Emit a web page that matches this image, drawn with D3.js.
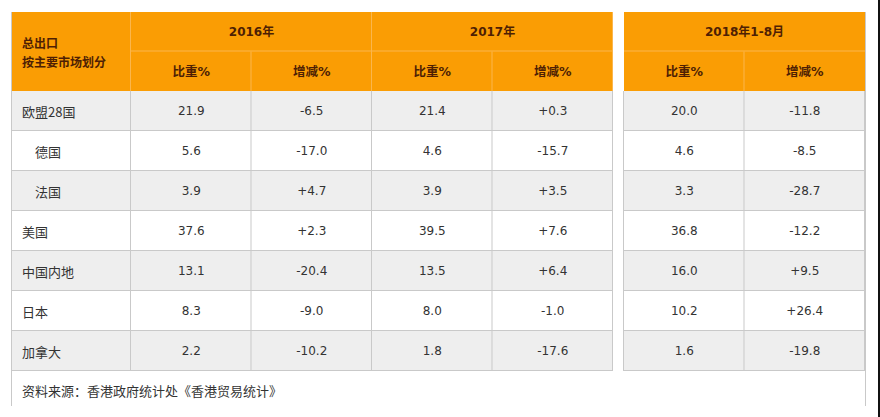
<!DOCTYPE html>
<html>
<head>
<meta charset="utf-8">
<script src="https://cdn.jsdelivr.net/npm/d3@7"></script>
<style>
  body { margin: 0; background: #fff; }
  svg { display: block; }
  .cell-text { font-family: "DejaVu Sans", "Noto Sans CJK SC", sans-serif; font-size: 12px; fill: #333; }
  .label-text { font-family: "Noto Sans CJK SC", sans-serif; font-size: 13px; fill: #333; }
  .head-text { font-family: "DejaVu Sans", "Noto Sans CJK SC", sans-serif; font-size: 12.5px; font-weight: bold; fill: #4e1f04; }
  .period { font-size: 12px; }
  .corner { font-family: "Noto Sans CJK SC", sans-serif; font-size: 12px; }
</style>
</head>
<body>
<svg width="880" height="417"></svg>
<script>
const markets = ['欧盟28国', '德国', '法国', '美国', '中国内地', '日本', '加拿大']
const indented = ['德国', '法国']
const periods = ['2016年', '2017年', '2018年1-8月']
const subHeads = ['比重%', '增减%']

const share2016 = ['21.9', '5.6', '3.9', '37.6', '13.1', '8.3', '2.2']
const change2016 = ['-6.5', '-17.0', '+4.7', '+2.3', '-20.4', '-9.0', '-10.2']
const share2017 = ['21.4', '4.6', '3.9', '39.5', '13.5', '8.0', '1.8']
const change2017 = ['+0.3', '-15.7', '+3.5', '+7.6', '+6.4', '-1.0', '-17.6']
const share2018 = ['20.0', '4.6', '3.3', '36.8', '16.0', '10.2', '1.6']
const change2018 = ['-11.8', '-8.5', '-28.7', '-12.2', '+9.5', '+26.4', '-19.8']

const cornerLabel = ['总出口', '按主要市场划分']
const source = '资料来源：香港政府统计处《香港贸易统计》'

const ORANGE = '#fa9d04'
const ORANGE_LINE = '#fbb64c'
const GRID = '#c9c9c9'
const GRAY_ROW = '#eeeeee'

const columns = [
  { period: 0, sub: 0, values: share2016 },
  { period: 0, sub: 1, values: change2016 },
  { period: 1, sub: 0, values: share2017 },
  { period: 1, sub: 1, values: change2017 },
  { period: 2, sub: 0, values: share2018 },
  { period: 2, sub: 1, values: change2018 },
]
columns.forEach((c, i) => c.key = 'c' + i)

const svg = d3.select('svg')

const LEFT = 12, LABEL_W = 119, TOP = 12, HEAD_H = 39.5
const xLeft = d3.scaleBand().domain(['c0', 'c1', 'c2', 'c3']).range([LEFT + LABEL_W, 613])
const xRight = d3.scaleBand().domain(['c4', 'c5']).range([624, 865])
const colX = k => (xLeft.domain().includes(k) ? xLeft(k) : xRight(k))
const colW = k => (xLeft.domain().includes(k) ? xLeft.bandwidth() : xRight.bandwidth())

const y = d3.scaleBand().domain(markets).range([TOP + 2 * HEAD_H, 371])

// outer frame lines
svg.append('line').attr('x1', LEFT - 0.5).attr('x2', LEFT - 0.5).attr('y1', TOP).attr('y2', 406)
  .attr('stroke', GRID)
svg.append('line').attr('x1', 865.5).attr('x2', 865.5).attr('y1', TOP).attr('y2', 406)
  .attr('stroke', GRID)
svg.append('rect').attr('x', 878).attr('y', 0).attr('width', 2).attr('height', 417).attr('fill', '#111')

// header backgrounds
const blocks = [[LEFT, 613], [624, 865]]
svg.selectAll('rect.head').data(blocks).join('rect')
  .attr('class', 'head')
  .attr('x', d => d[0]).attr('y', TOP)
  .attr('width', d => d[1] - d[0]).attr('height', 2 * HEAD_H)
  .attr('fill', ORANGE)

// rows
const rows = svg.selectAll('g.row').data(markets).join('g').attr('class', 'row')
rows.selectAll('rect').data((m, i) => blocks.map(b => ({ b, i }))).join('rect')
  .attr('x', d => d.b[0]).attr('width', d => d.b[1] - d.b[0])
  .attr('y', d => y(markets[d.i])).attr('height', y.bandwidth())
  .attr('fill', d => d.i % 2 === 0 ? GRAY_ROW : '#fff')

// horizontal grid lines under rows
svg.selectAll('line.hgrid').data(markets.flatMap(m => blocks.map(b => ({ m, b })))).join('line')
  .attr('class', 'hgrid')
  .attr('x1', d => d.b[0]).attr('x2', d => d.b[1])
  .attr('y1', d => y(d.m) + y.bandwidth() - 0.5).attr('y2', d => y(d.m) + y.bandwidth() - 0.5)
  .attr('stroke', GRID)

// vertical grid lines in body
const vEdges = [LEFT + LABEL_W, ...columns.map(c => colX(c.key) + colW(c.key)), 624]
svg.selectAll('line.vgrid').data(vEdges).join('line')
  .attr('class', 'vgrid')
  .attr('x1', d => d - 0.5).attr('x2', d => d - 0.5)
  .attr('y1', y.range()[0]).attr('y2', y.range()[1])
  .attr('stroke', GRID)

// header separator lines
const periodSpans = periods.map((p, i) => {
  const cs = columns.filter(c => c.period === i)
  const x0 = colX(cs[0].key), x1 = colX(cs[1].key) + colW(cs[1].key)
  return { p, x0, x1 }
})
svg.selectAll('line.hsep').data(periodSpans).join('line')
  .attr('class', 'hsep')
  .attr('x1', d => d.x0).attr('x2', d => d.x1)
  .attr('y1', TOP + HEAD_H - 0.5).attr('y2', TOP + HEAD_H - 0.5)
  .attr('stroke', ORANGE_LINE)
svg.selectAll('line.vsep').data([LEFT + LABEL_W, ...periodSpans.slice(0, 2).map(d => d.x1)]).join('line')
  .attr('class', 'vsep')
  .attr('x1', d => d - 0.5).attr('x2', d => d - 0.5)
  .attr('y1', TOP).attr('y2', TOP + 2 * HEAD_H)
  .attr('stroke', ORANGE_LINE)
svg.selectAll('line.vsub').data(columns.filter(c => c.sub === 1)).join('line')
  .attr('class', 'vsub')
  .attr('x1', d => colX(d.key) - 0.5).attr('x2', d => colX(d.key) - 0.5)
  .attr('y1', TOP + HEAD_H).attr('y2', TOP + 2 * HEAD_H)
  .attr('stroke', ORANGE_LINE)

// header text
svg.selectAll('text.period').data(periodSpans).join('text')
  .attr('class', 'head-text period')
  .attr('x', d => (d.x0 + d.x1) / 2).attr('y', TOP + HEAD_H / 2)
  .attr('text-anchor', 'middle').attr('dominant-baseline', 'central')
  .text(d => d.p)
svg.selectAll('text.sub').data(columns).join('text')
  .attr('class', 'head-text sub')
  .attr('x', d => colX(d.key) + colW(d.key) / 2).attr('y', TOP + HEAD_H * 1.5)
  .attr('text-anchor', 'middle').attr('dominant-baseline', 'central')
  .text(d => subHeads[d.sub])
svg.selectAll('text.corner').data(cornerLabel).join('text')
  .attr('class', 'head-text corner')
  .attr('x', LEFT + 10).attr('y', (d, i) => TOP + 30 + i * 19)
  .attr('dominant-baseline', 'central')
  .text(d => d)

// market labels
svg.selectAll('text.market').data(markets).join('text')
  .attr('class', 'label-text market')
  .attr('x', d => LEFT + (indented.includes(d) ? 23 : 10))
  .attr('y', d => y(d) + y.bandwidth() / 2)
  .attr('dominant-baseline', 'central')
  .text(d => d)

// values
columns.forEach(c => {
  svg.selectAll('text.v' + c.key).data(c.values).join('text')
    .attr('class', 'cell-text v' + c.key)
    .attr('x', colX(c.key) + colW(c.key) / 2)
    .attr('y', (d, i) => y(markets[i]) + y.bandwidth() / 2)
    .attr('text-anchor', 'middle').attr('dominant-baseline', 'central')
    .text(d => d)
})

// source
svg.append('text').attr('class', 'label-text')
  .attr('x', LEFT + 10).attr('y', 390)
  .attr('dominant-baseline', 'central')
  .text(source)
</script>
</body>
</html>
